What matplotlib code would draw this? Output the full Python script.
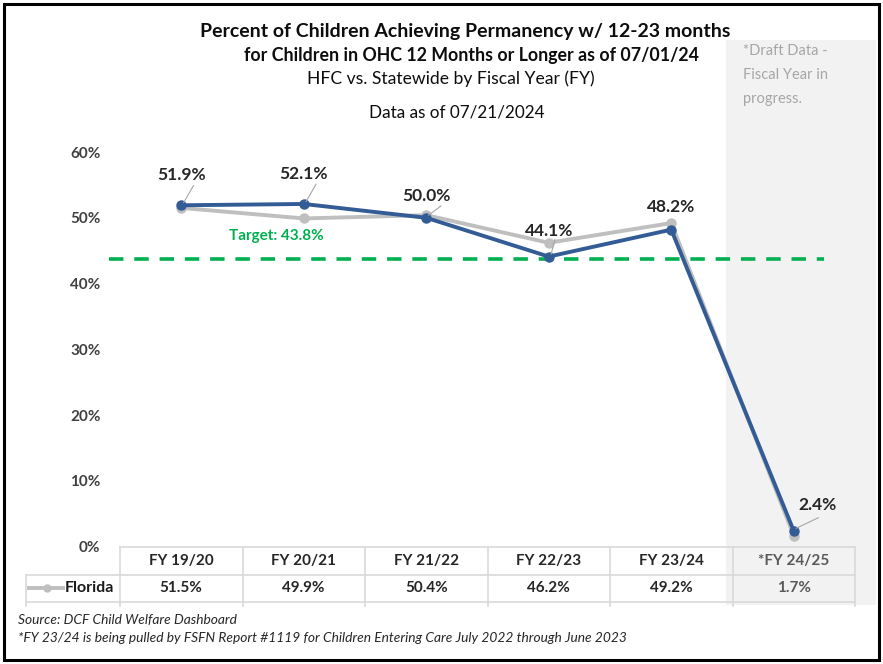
import matplotlib.pyplot as plt
import matplotlib.transforms as mtransforms
from matplotlib.patches import Rectangle

plt.rcParams['font.family'] = ['Lato', 'DejaVu Sans']

# 数据
categories = ["FY 19/20", "FY 20/21", "FY 21/22", "FY 22/23", "FY 23/24", "*FY 24/25"]
hfc = [51.9, 52.1, 50.0, 44.1, 48.2, 2.4]
florida = [51.5, 49.9, 50.4, 46.2, 49.2, 1.7]
target = 43.8

W, H = 883, 664
fig = plt.figure(figsize=(W / 100, H / 100), dpi=100)


def fy(py):
    # 像素 y（从上往下）-> figure 坐标
    return 1 - py / H


def fx(px):
    return px / W


ax = fig.add_axes([fx(120), fy(546.7), fx(855) - fx(120), fy(152) - fy(546.7)])
ax.set_xlim(-0.5, 5.5)
ax.set_ylim(0, 60)
for s in ax.spines.values():
    s.set_visible(False)
ax.set_xticks([])
ax.set_yticks([0, 10, 20, 30, 40, 50, 60])
ax.set_yticklabels([f"{v}%" for v in range(0, 70, 10)], fontsize=11, fontweight="bold", color="#404040")
ax.tick_params(axis="y", length=0, pad=14)

blend = mtransforms.blended_transform_factory(ax.transData, fig.transFigure)

# 草稿区域的灰色背景
ax.add_patch(Rectangle((4.45, fy(605)), 1.22, fy(40) - fy(605), transform=blend,
                       facecolor="#F2F2F2", edgecolor="none", clip_on=False, zorder=0))
fig.text(fx(743), fy(44), "*Draft Data -\nFiscal Year in\nprogress.", fontsize=10.5,
         color="#A6A6A6", va="top", ha="left", linespacing=1.9)

x = list(range(len(categories)))

# 目标线
ax.plot([-0.59, 5.25], [target, target], color="#00B050", lw=2.6, ls=(0, (4, 3)), zorder=2, clip_on=False)
ax.text(0.78, 47.2, f"Target: {target}%", color="#00B050", fontsize=11, fontweight="bold",
        ha="center", va="center")

ax.plot(x, florida, color="#BFBFBF", lw=2.8, marker="o", ms=6.5, zorder=3, clip_on=False)
ax.plot(x, hfc, color="#335C96", lw=2.8, marker="o", ms=6.5, zorder=4, clip_on=False)

# 数据标签（偏移量, 引线终点）
label_offsets = [(0, 4.6), (0, 4.6), (0, 3.3), (0, 3.9), (0, 3.5), (0.19, 3.9)]
leader_ends = [(0.1, 3.0), (0.1, 3.0), (0.12, 1.8), (0.05, 2.6), None, (0.2, 2.0)]
for i, (v, (dx, dy), le) in enumerate(zip(hfc, label_offsets, leader_ends)):
    ax.text(i + dx, v + dy, f"{v}%", fontsize=12.5, fontweight="bold", color="#262626",
            ha="center", va="center", zorder=5)
    if le is not None:
        ax.plot([i + 0.02, i + le[0]], [v + 0.4, v + le[1]], color="#A6A6A6", lw=0.8, zorder=5)

# 表格
grid_c = "#D9D9D9"
y_top, y_mid, y_bot, y_end = fy(547.3), fy(574.7), fy(601.7), fy(606)
ax.plot([-0.5, 5.5], [y_top, y_top], transform=blend, color=grid_c, lw=1.2, clip_on=False)
fig.add_artist(plt.Line2D([fx(26), fx(855)], [y_mid, y_mid], color=grid_c, lw=1.2))
fig.add_artist(plt.Line2D([fx(26), fx(855)], [y_bot, y_bot], color=grid_c, lw=1.2))
fig.add_artist(plt.Line2D([fx(26), fx(26)], [y_mid, y_end], color=grid_c, lw=1.2))
for b in [i - 0.5 for i in range(len(categories) + 1)]:
    ax.plot([b, b], [y_top, y_end], transform=blend, color=grid_c, lw=1.2, clip_on=False)

for i, (c, v) in enumerate(zip(categories, florida)):
    col = "#595959" if i == 5 else "#262626"
    ax.text(i, (y_top + y_mid) / 2, c, transform=blend, ha="center", va="center",
            fontsize=11, fontweight="bold", color=col)
    ax.text(i, (y_mid + y_bot) / 2, f"{v}%", transform=blend, ha="center", va="center",
            fontsize=11, fontweight="bold", color=col)

# 图例
ym = (y_mid + y_bot) / 2
fig.add_artist(plt.Line2D([fx(29), fx(63)], [ym, ym], color="#BFBFBF", lw=2.8))
fig.add_artist(plt.Line2D([fx(47)], [ym], color="#BFBFBF", marker="o", ms=5))
fig.text(fx(65), ym, "Florida", fontsize=11.5, fontweight="bold", color="#1A1A1A", va="center")

# 标题
fig.text(fx(465), fy(32), "Percent of Children Achieving Permanency w/ 12-23 months", fontsize=14,
         fontweight="bold", ha="center", va="center", color="#0D0D0D")
fig.text(fx(472), fy(56), "for Children in OHC 12 Months or Longer as of 07/01/24", fontsize=12.8,
         fontweight="bold", ha="center", va="center", color="#0D0D0D")
fig.text(fx(451), fy(79), "HFC vs. Statewide by Fiscal Year (FY)", fontsize=12.6,
         ha="center", va="center", color="#0D0D0D")
fig.text(fx(457), fy(113), "Data as of 07/21/2024", fontsize=12.3,
         ha="center", va="center", color="#0D0D0D")

# 脚注
fig.text(fx(18), fy(620), "Source: DCF Child Welfare Dashboard", fontsize=9.9, style="italic",
         va="center", color="#262626")
fig.text(fx(18), fy(638), "*FY 23/24 is being pulled by FSFN Report #1119 for Children Entering Care July 2022 through June 2023",
         fontsize=9.9, style="italic", va="center", color="#262626")

# 外框
fig.add_artist(Rectangle((fx(4), fy(660)), fx(879) - fx(4), fy(4) - fy(660), transform=fig.transFigure,
                         facecolor="none", edgecolor="black", lw=2.2))

plt.savefig("out.png", dpi=100)
